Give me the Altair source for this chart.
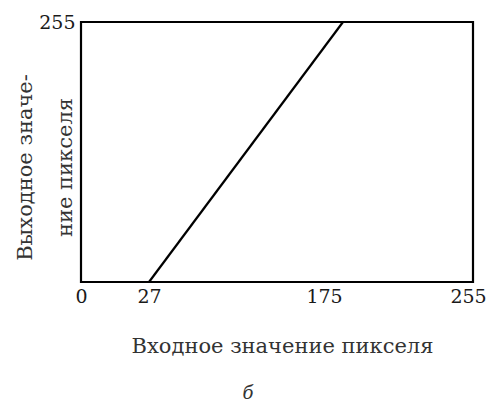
import altair as alt
import pandas as pd

# data
x_in = [27, 175]          # input pixel value
y_out = [0, 255]          # output pixel value
x_ticks = [0, 27, 175, 255]
y_ticks = [255]

df = pd.DataFrame({"x": x_in, "y": y_out})

FONT = "DejaVu Serif"
INK = "#1a1a1a"

x_scale = alt.Scale(domain=x_ticks, range=[0, 68, 262, 392])
y_scale = alt.Scale(domain=[0, 255], nice=False, zero=True)

x_label_offset = {
    "condition": [
        {"test": "datum.value === 175", "value": -19},
        {"test": "datum.value === 255", "value": -5},
    ],
    "value": 0,
}

chart = (
    alt.Chart(df)
    .mark_line(color="black", strokeWidth=2.2)
    .encode(
        x=alt.X(
            "x:Q",
            scale=x_scale,
            axis=alt.Axis(
                values=x_ticks,
                title="Входное значение пикселя",
                domain=False,
                grid=False,
                ticks=False,
                tickSize=0,
                labelPadding=5,
                labelOffset=x_label_offset,
                labelFont=FONT,
                labelFontSize=19,
                labelColor=INK,
                labelFlush=False,
                labelOverlap=False,
                titleFont=FONT,
                titleFontSize=21,
                titleFontWeight="normal",
                titleColor="#333333",
                titleX=201,
                titleY=70,
                titleAlign="center",
                titleBaseline="alphabetic",
            ),
        ),
        y=alt.Y(
            "y:Q",
            scale=y_scale,
            axis=alt.Axis(
                values=y_ticks,
                title=["Выходное значе-", "ние пикселя"],
                domain=False,
                grid=False,
                ticks=False,
                tickSize=0,
                labelPadding=6,
                labelFont=FONT,
                labelFontSize=19,
                labelColor=INK,
                labelFlush=False,
                labelOverlap=False,
                titleFont=FONT,
                titleFontSize=21,
                titleFontWeight="normal",
                titleColor="#333333",
                titleAngle=270,
                titleX=-50,
                titleY=145,
                titleAlign="center",
                titleBaseline="alphabetic",
                titleLineHeight=40,
            ),
        ),
    )
    .properties(
        width=392,
        height=260,
        autosize=alt.AutoSizeParams(type="none"),
        padding={"left": 73, "top": 14, "right": 15, "bottom": 121},
        view=alt.ViewBackground(stroke="black", strokeWidth=2.2),
        title=alt.TitleParams(
            "б",
            orient="bottom",
            anchor="middle",
            font=FONT,
            fontSize=18,
            fontStyle="italic",
            fontWeight="normal",
            color="#333333",
            dx=-29,
            offset=29,
        ),
    )
    .configure_view(stroke="black", strokeWidth=2.2)
    .configure(background="white")
)

chart.save("out.html", embed_options={"renderer": "svg", "actions": False})
